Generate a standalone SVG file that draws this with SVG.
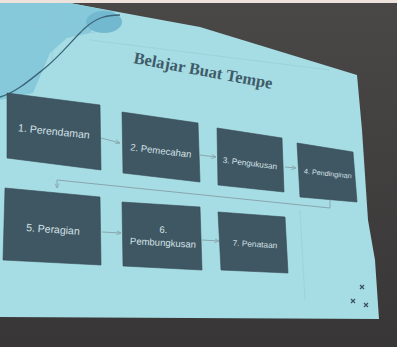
<svg xmlns="http://www.w3.org/2000/svg" width="397" height="347" viewBox="0 0 397 347">
<defs>
<style>
.box{fill:#3f5663;stroke:#354a55;stroke-width:0.6}
.lbl{font-family:"Liberation Sans",Arial,sans-serif;fill:#d3e2e6;text-anchor:middle}
.con{fill:none;stroke:#8aa6ae;stroke-width:1}
.title{font-family:"Liberation Serif","Times New Roman",serif;font-weight:bold;fill:#3f5b6a;text-anchor:middle}
</style>
<marker id="ah" viewBox="0 0 6 6" refX="5.5" refY="3" markerWidth="5" markerHeight="5" orient="auto" markerUnits="userSpaceOnUse">
<path d="M0,0.5 L5.5,3 L0,5.5" fill="none" stroke="#8aa6ae" stroke-width="1"/>
</marker>
<linearGradient id="room" x1="0" y1="0" x2="0" y2="1">
<stop offset="0" stop-color="#4a4747"/>
<stop offset="1" stop-color="#383636"/>
</linearGradient>
</defs>
<!-- room background -->
<rect x="0" y="0" width="397" height="347" fill="url(#room)"/>
<rect x="0" y="0" width="397" height="3" fill="#ede2dc"/>
<!-- slide -->
<polygon points="0,3 70,3 140,16 200,27 357,75 362,130 368,220 375,260 379,319 0,317" fill="#a6dce3"/>
<!-- decorative darker area -->
<path d="M0,3 L70,3 L115,12 L100,18 L90,33 L67,38 L50,53 L33,93 L0,100 Z" fill="#86c9da"/>
<ellipse cx="104" cy="22" rx="18" ry="11" fill="#72b9cf"/>
<path d="M0,97 C15,93 30,80 45,68 C62,54 72,40 85,28 C96,18 106,15 120,15" fill="none" stroke="#3c6478" stroke-width="1.3"/>
<!-- faint grid lines -->
<g stroke="#94c6d1" stroke-width="0.7" fill="none" opacity="0.6">
<line x1="30" y1="23" x2="95" y2="33"/>
<line x1="90" y1="40" x2="330" y2="70"/>
<line x1="55" y1="5" x2="52" y2="60"/>
<line x1="300" y1="210" x2="305" y2="300"/>
</g>
<!-- title -->
<text class="title" x="203" y="76" font-size="16.5" transform="rotate(10.5 203 72)">Belajar Buat Tempe</text>
<!-- connectors -->
<g id="connectors">
<line class="con" x1="101" y1="138" x2="120" y2="143" marker-end="url(#ah)"/>
<line class="con" x1="200" y1="155" x2="216" y2="157" marker-end="url(#ah)"/>
<line class="con" x1="285" y1="167" x2="296" y2="168" marker-end="url(#ah)"/>
<polyline class="con" points="330,200 330,208 57,180 57,188" marker-end="url(#ah)"/>
<line class="con" x1="102" y1="232" x2="121" y2="233" marker-end="url(#ah)"/>
<line class="con" x1="202" y1="240" x2="219" y2="241" marker-end="url(#ah)"/>
</g>
<!-- nodes -->
<g id="n1">
<polygon class="box" points="7,93 100,105 101,170 7,158"/>
<text class="lbl" x="54" y="135" font-size="10.5" transform="rotate(6 54 131)">1. Perendaman</text>
</g>
<g id="n2">
<polygon class="box" points="122,112 198,123 200,182 123,173"/>
<text class="lbl" x="161" y="154" font-size="9.5" transform="rotate(7 161 150)">2. Pemecahan</text>
</g>
<g id="n3">
<polygon class="box" points="217,128 282,138 284,192 218,185"/>
<text class="lbl" x="250" y="166" font-size="8.2" transform="rotate(7 250 163)">3. Pengukusan</text>
</g>
<g id="n4">
<polygon class="box" points="297,143 353,152 357,202 300,197"/>
<text class="lbl" x="328" y="176" font-size="7.2" transform="rotate(6 328 173)">4. Pendinginan</text>
</g>
<g id="n5">
<polygon class="box" points="5,188 100,197 101,265 3,260"/>
<text class="lbl" x="53" y="233" font-size="10.5" transform="rotate(4 53 229)">5. Peragian</text>
</g>
<g id="n6">
<polygon class="box" points="122,202 200,207 202,270 123,266"/>
<text class="lbl" x="163" y="233" font-size="9.5" transform="rotate(3 163 235)">6.</text>
<text class="lbl" x="163" y="246" font-size="9.5" transform="rotate(3 163 242)">Pembungkusan</text>
</g>
<g id="n7">
<polygon class="box" points="218,212 285,217 288,273 221,270"/>
<text class="lbl" x="255" y="247" font-size="8.3" transform="rotate(3 255 244)">7. Penataan</text>
</g>
<!-- small marks -->
<g stroke="#3a5060" stroke-width="1.2">
<path d="M360,285 l4,4 M364,285 l-4,4"/>
<path d="M351,299 l4,4 M355,299 l-4,4"/>
<path d="M364,303 l4,4 M368,303 l-4,4"/>
</g>
</svg>
